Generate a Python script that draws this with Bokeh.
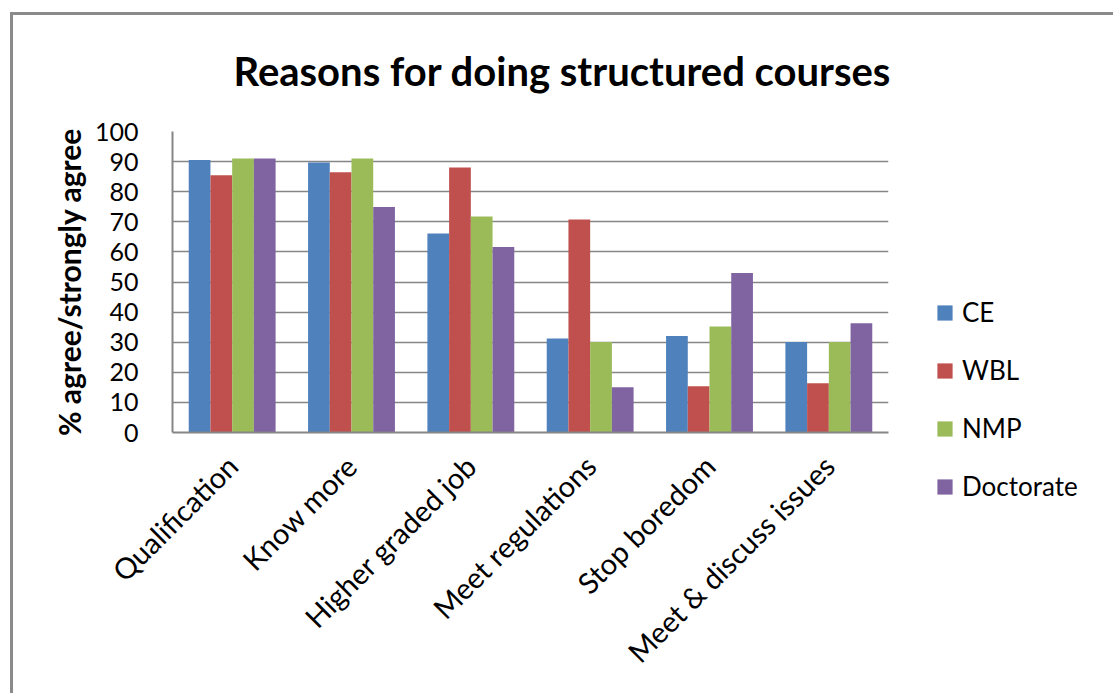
import math
from bokeh.plotting import figure
from bokeh.models import FactorRange, Legend, LegendItem, ColumnDataSource
from bokeh.transform import dodge
from bokeh.embed import file_html
from bokeh.resources import INLINE

categories = ["Qualification", "Know more", "Higher graded job", "Meet regulations",
              "Stop boredom", "Meet & discuss issues"]
ce = [90.5, 89.7, 66.1, 31.2, 32.1, 30.1]
wbl = [85.5, 86.5, 88.0, 70.8, 15.4, 16.4]
nmp = [91.0, 91.0, 71.8, 30.1, 35.2, 30.1]
doctorate = [91.0, 74.9, 61.6, 15.0, 53.0, 36.3]
series_names = ["CE", "WBL", "NMP", "Doctorate"]
y_ticks = [0, 10, 20, 30, 40, 50, 60, 70, 80, 90, 100]

colors = ["#4F81BD", "#C0504D", "#9BBB59", "#8064A2"]
offsets = [-0.273, -0.091, 0.091, 0.273]
grid = "#868686"
FONT = "Lato"

src = ColumnDataSource(dict(cat=categories, CE=ce, WBL=wbl, NMP=nmp, Doctorate=doctorate))

p = figure(x_range=FactorRange(*categories, range_padding=0), y_range=(0, 100),
           frame_width=716, frame_height=301, output_backend="svg", toolbar_location=None,
           min_border_left=172, min_border_right=225, min_border_top=131,
           min_border_bottom=261)
p.x_range.range_padding = 0
p.border_fill_color = None
p.background_fill_color = "white"
p.outline_line_color = None
p.styles = {"box-shadow": "inset 10px 12px 0 0 white, inset 13px 15px 0 0 #8a8a8a"}

renderers = []
for name, col, off in zip(series_names, colors, offsets):
    r = p.vbar(x=dodge("cat", off, range=p.x_range), top=name, width=0.182,
               source=src, fill_color=col, line_color=None)
    renderers.append(r)

# title
p.title.text = "Reasons for doing structured courses"
p.title.text_font = FONT
p.title.text_font_size = "40px"
p.title.text_font_style = "bold"
p.title.text_color = "black"
p.title.align = "left"
p.title.offset = 61
p.title.standoff = 73

# axes
p.xaxis.major_label_orientation = math.pi / 4
p.xaxis.major_label_text_font = FONT
p.xaxis.major_label_text_font_size = "29px"
p.xaxis.major_label_text_color = "black"
p.xaxis.major_tick_line_color = None
p.xaxis.minor_tick_line_color = None
p.xaxis.axis_line_color = grid
p.xaxis.axis_line_width = 2
p.xaxis.major_label_standoff = 22

p.yaxis.ticker = y_ticks
p.yaxis.major_label_text_font = FONT
p.yaxis.major_label_text_font_size = "25px"
p.yaxis.major_label_text_color = "black"
p.yaxis.major_tick_line_color = None
p.yaxis.minor_tick_line_color = None
p.yaxis.axis_line_color = grid
p.yaxis.axis_line_width = 2
p.yaxis.major_label_standoff = 28
p.yaxis.axis_label = "% agree/strongly agree"
p.yaxis.axis_label_text_font = FONT
p.yaxis.axis_label_text_font_size = "30px"
p.yaxis.axis_label_text_font_style = "bold"
p.yaxis.axis_label_text_color = "black"
p.yaxis.axis_label_standoff = 5

p.xgrid.grid_line_color = None
p.ygrid.grid_line_color = grid
p.ygrid.grid_line_width = 1.5

legend = Legend(items=[LegendItem(label=n, renderers=[r]) for n, r in zip(series_names, renderers)],
                location=(47, -70), orientation="vertical")
legend.glyph_width = 19
legend.glyph_height = 19
legend.label_height = 29
legend.spacing = 26
legend.label_standoff = 8
legend.padding = 0
legend.margin = 0
legend.border_line_color = None
legend.background_fill_color = None
legend.label_text_font = FONT
legend.label_text_font_size = "26px"
legend.label_text_color = "black"
p.add_layout(legend, "right")

open("out.html", "w").write(file_html(p, INLINE))
